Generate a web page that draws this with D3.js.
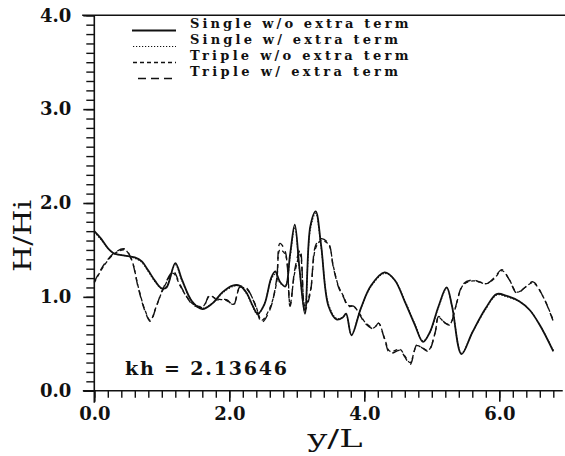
<!DOCTYPE html>
<html>
<head>
<meta charset="utf-8">
<script src="https://cdn.jsdelivr.net/npm/d3@7"></script>
<style>
  html, body { margin: 0; padding: 0; background: #fff; }
  svg { display: block; }
</style>
</head>
<body>
<svg id="chart" width="565" height="456"></svg>
<script>
// Wave height ratio H/Hi along y/L for kh = 2.13646

// Single breakwater, without the extra term
const singleNoX = [0, 0.1, 0.2, 0.3, 0.45, 0.6, 0.7, 0.8, 0.9, 1.0, 1.07, 1.2, 1.3, 1.45, 1.6, 1.75, 1.9, 2.05, 2.15, 2.25, 2.35, 2.42, 2.52, 2.62, 2.68, 2.75, 2.83, 2.9, 2.97, 3.04, 3.12, 3.2, 3.28, 3.36, 3.47, 3.59, 3.68, 3.73, 3.81, 3.95, 4.1, 4.3, 4.45, 4.6, 4.75, 4.87, 4.97, 5.1, 5.22, 5.3, 5.44, 5.6, 5.8, 5.96, 6.11, 6.3, 6.45, 6.6, 6.8];
const singleNoY = [1.70, 1.62, 1.52, 1.46, 1.44, 1.42, 1.38, 1.28, 1.17, 1.09, 1.10, 1.36, 1.18, 0.95, 0.87, 0.93, 1.05, 1.12, 1.12, 1.05, 0.90, 0.82, 0.92, 1.20, 1.27, 1.16, 1.11, 1.45, 1.77, 1.30, 0.82, 1.75, 1.91, 1.55, 0.90, 0.76, 0.78, 0.82, 0.59, 0.88, 1.12, 1.26, 1.18, 0.95, 0.70, 0.52, 0.62, 0.90, 1.10, 0.90, 0.39, 0.62, 0.88, 1.03, 1.01, 0.95, 0.86, 0.70, 0.42];

// Single breakwater, with the extra term
const singleExX = [0, 0.1, 0.2, 0.3, 0.45, 0.6, 0.7, 0.8, 0.9, 1.0, 1.07, 1.2, 1.3, 1.45, 1.6, 1.75, 1.9, 2.05, 2.15, 2.25, 2.35, 2.42, 2.52, 2.62, 2.68, 2.75, 2.83, 2.9, 2.97, 3.04, 3.12, 3.2, 3.28, 3.36, 3.47, 3.59, 3.68, 3.73, 3.81, 3.95, 4.1, 4.3, 4.45, 4.6, 4.75, 4.87, 4.97, 5.1, 5.22, 5.3, 5.44, 5.6, 5.8, 5.96, 6.11, 6.3, 6.45, 6.6, 6.8];
const singleExY = [1.69, 1.61, 1.52, 1.46, 1.44, 1.41, 1.37, 1.27, 1.16, 1.09, 1.11, 1.34, 1.17, 0.95, 0.88, 0.93, 1.04, 1.11, 1.12, 1.04, 0.89, 0.81, 0.93, 1.18, 1.24, 1.15, 1.12, 1.42, 1.74, 1.28, 0.84, 1.72, 1.89, 1.53, 0.92, 0.77, 0.78, 0.81, 0.60, 0.88, 1.11, 1.25, 1.18, 0.96, 0.71, 0.53, 0.62, 0.89, 1.09, 0.90, 0.40, 0.62, 0.87, 1.02, 1.00, 0.95, 0.86, 0.70, 0.43];

// Triple breakwater, without the extra term
const tripleNoX = [0, 0.15, 0.3, 0.45, 0.55, 0.65, 0.75, 0.83, 0.92, 1.02, 1.17, 1.27, 1.37, 1.47, 1.61, 1.71, 1.81, 1.96, 2.06, 2.16, 2.26, 2.38, 2.48, 2.6, 2.7, 2.75, 2.83, 2.9, 2.97, 3.05, 3.12, 3.2, 3.28, 3.36, 3.47, 3.54, 3.62, 3.69, 3.76, 3.84, 3.94, 4.01, 4.14, 4.21, 4.3, 4.38, 4.53, 4.6, 4.68, 4.78, 4.87, 4.95, 5.05, 5.1, 5.2, 5.27, 5.34, 5.47, 5.61, 5.7, 5.81, 5.92, 6.04, 6.15, 6.26, 6.38, 6.5, 6.65, 6.8];
const tripleNoY = [1.15, 1.34, 1.46, 1.50, 1.40, 1.11, 0.86, 0.75, 0.90, 1.08, 1.25, 1.12, 1.00, 0.92, 0.90, 1.01, 0.98, 0.96, 0.92, 1.10, 1.08, 0.93, 0.75, 0.88, 1.15, 1.50, 1.45, 0.92, 1.26, 1.45, 0.90, 1.06, 1.52, 1.60, 1.56, 1.33, 1.11, 1.01, 0.91, 0.90, 0.81, 0.73, 0.67, 0.72, 0.56, 0.42, 0.44, 0.37, 0.30, 0.48, 0.45, 0.43, 0.62, 0.78, 0.72, 0.71, 0.86, 1.13, 1.17, 1.16, 1.14, 1.19, 1.28, 1.18, 1.05, 1.10, 1.15, 1.00, 0.75];

// Triple breakwater, with the extra term
const tripleExX = [0, 0.15, 0.3, 0.45, 0.55, 0.65, 0.75, 0.83, 0.92, 1.02, 1.17, 1.27, 1.37, 1.47, 1.61, 1.71, 1.81, 1.96, 2.06, 2.16, 2.26, 2.38, 2.48, 2.6, 2.7, 2.75, 2.83, 2.9, 2.97, 3.05, 3.12, 3.2, 3.28, 3.36, 3.47, 3.54, 3.62, 3.69, 3.76, 3.84, 3.94, 4.01, 4.14, 4.21, 4.3, 4.38, 4.53, 4.6, 4.68, 4.78, 4.87, 4.95, 5.05, 5.1, 5.2, 5.27, 5.34, 5.47, 5.61, 5.7, 5.81, 5.92, 6.04, 6.15, 6.26, 6.38, 6.5, 6.65, 6.8];
const tripleExY = [1.16, 1.35, 1.47, 1.51, 1.40, 1.10, 0.85, 0.74, 0.90, 1.09, 1.27, 1.13, 1.00, 0.91, 0.89, 1.02, 0.97, 0.97, 0.91, 1.11, 1.09, 0.92, 0.73, 0.86, 1.18, 1.57, 1.48, 0.90, 1.29, 1.50, 0.86, 1.04, 1.55, 1.62, 1.57, 1.32, 1.10, 1.00, 0.90, 0.90, 0.80, 0.72, 0.66, 0.72, 0.55, 0.40, 0.43, 0.36, 0.28, 0.49, 0.45, 0.42, 0.62, 0.79, 0.72, 0.70, 0.86, 1.14, 1.18, 1.16, 1.14, 1.20, 1.29, 1.18, 1.04, 1.10, 1.16, 1.00, 0.74];

const seriesNames = ["Single w/o extra term", "Single w/ extra term", "Triple w/o extra term", "Triple w/ extra term"];
const xMajorTicks = [0, 2, 4, 6];
const xTickLabels = ["0.0", "2.0", "4.0", "6.0"];
const yMajorTicks = [0, 1, 2, 3, 4];
const yTickLabels = ["0.0", "1.0", "2.0", "3.0", "4.0"];
const annotation = "kh = 2.13646";

const svg = d3.select("#chart");
const ink = "#111";
const serif = "'DejaVu Serif', 'Liberation Serif', serif";

const x = d3.scaleLinear().domain([0, 6.94]).range([94.3, 94.3 + 6.94 * 67.5]);
const y = d3.scaleLinear().domain([0, 4]).range([390.7, 15.3]);

// Frame: top rule, left axis, bottom axis
svg.append("line").attr("x1", x(-0.18)).attr("x2", 565).attr("y1", y(4)).attr("y2", y(4))
  .attr("stroke", ink).attr("stroke-width", 1.6);
svg.append("line").attr("x1", x(0)).attr("x2", x(0)).attr("y1", y(4)).attr("y2", y(0) + 12)
  .attr("stroke", ink).attr("stroke-width", 1.6);
svg.append("line").attr("x1", x(-0.17)).attr("x2", x(6.94)).attr("y1", y(0)).attr("y2", y(0))
  .attr("stroke", ink).attr("stroke-width", 1.6);

// x axis: minor ticks every 0.2, labelled majors every 2
const xMinor = d3.range(0, 35).map(i => +(i * 0.2).toFixed(1));
svg.append("g").attr("transform", `translate(0,${y(0)})`)
  .call(d3.axisBottom(x).tickValues(xMinor).tickSize(7).tickFormat(""))
  .call(g => g.select(".domain").remove())
  .call(g => g.selectAll("line").attr("stroke", ink).attr("stroke-width", 1.4));
svg.append("g").attr("transform", `translate(0,${y(0)})`)
  .call(d3.axisBottom(x).tickValues(xMajorTicks).tickSize(11)
    .tickFormat((d, i) => xTickLabels[i]).tickPadding(6))
  .call(g => g.select(".domain").remove())
  .call(g => g.selectAll("line").attr("stroke", ink).attr("stroke-width", 1.6))
  .call(g => g.selectAll("text").attr("fill", ink).attr("font-family", serif)
    .attr("font-weight", "bold").attr("font-size", 18));

// y axis: minor ticks every 0.1, labelled majors every 1
const yMinor = d3.range(0, 41).map(i => +(i * 0.1).toFixed(1));
svg.append("g").attr("transform", `translate(${x(0)},0)`)
  .call(d3.axisLeft(y).tickValues(yMinor).tickSize(8).tickFormat(""))
  .call(g => g.select(".domain").remove())
  .call(g => g.selectAll("line").attr("stroke", ink).attr("stroke-width", 1.4));
svg.append("g").attr("transform", `translate(${x(0)},0)`)
  .call(d3.axisLeft(y).tickValues(yMajorTicks).tickSize(11)
    .tickFormat((d, i) => yTickLabels[i]).tickPadding(12))
  .call(g => g.select(".domain").remove())
  .call(g => g.selectAll("line").attr("stroke", ink).attr("stroke-width", 1.6))
  .call(g => g.selectAll("text").attr("fill", ink).attr("font-family", serif)
    .attr("font-weight", "bold").attr("font-size", 18));

// Axis titles
svg.append("text").attr("x", 335).attr("y", 447).attr("text-anchor", "middle")
  .attr("font-family", serif).attr("font-size", 25).attr("fill", ink)
  .attr("textLength", 55).attr("lengthAdjust", "spacingAndGlyphs").text("y/L");
svg.append("text").attr("transform", "translate(31,236) rotate(-90)").attr("text-anchor", "middle")
  .attr("font-family", serif).attr("font-size", 25).attr("fill", ink)
  .attr("textLength", 72).attr("lengthAdjust", "spacingAndGlyphs").text("H/Hi");

// Curves
const styles = [
  { dash: null, width: 1.8 },
  { dash: "1.2,1.8", width: 1.2 },
  { dash: "4,3", width: 1.3 },
  { dash: "8,5", width: 1.4 }
];
const series = [
  singleNoX.map((v, i) => [v, singleNoY[i]]),
  singleExX.map((v, i) => [v, singleExY[i]]),
  tripleNoX.map((v, i) => [v, tripleNoY[i]]),
  tripleExX.map((v, i) => [v, tripleExY[i]])
];
const line = d3.line().x(d => x(d[0])).y(d => y(d[1])).curve(d3.curveCatmullRom.alpha(0.5));
series.forEach((s, i) => {
  svg.append("path").datum(s).attr("d", line).attr("fill", "none")
    .attr("stroke", ink).attr("stroke-width", styles[i].width)
    .attr("stroke-dasharray", styles[i].dash).attr("stroke-linejoin", "round");
});

// Legend
const legendRowY = [30.5, 46.5, 62.5, 78.5];
const legendX0 = [132, 133, 133, 138];
seriesNames.forEach((name, i) => {
  svg.append("line").attr("x1", legendX0[i]).attr("x2", 176)
    .attr("y1", legendRowY[i]).attr("y2", legendRowY[i])
    .attr("stroke", ink).attr("stroke-width", styles[i].width)
    .attr("stroke-dasharray", styles[i].dash);
  svg.append("text").attr("x", 190).attr("y", legendRowY[i] - 2.5)
    .attr("font-family", serif).attr("font-weight", "bold").attr("font-size", 13)
    .attr("fill", ink).attr("textLength", name.length * 10.4).attr("lengthAdjust", "spacing")
    .text(name);
});

// Wavenumber annotation
svg.append("text").attr("x", 125).attr("y", 375)
  .attr("font-family", serif).attr("font-weight", "bold").attr("font-size", 19)
  .attr("fill", ink).attr("textLength", 162).attr("lengthAdjust", "spacing")
  .text(annotation);
</script>
</body>
</html>
